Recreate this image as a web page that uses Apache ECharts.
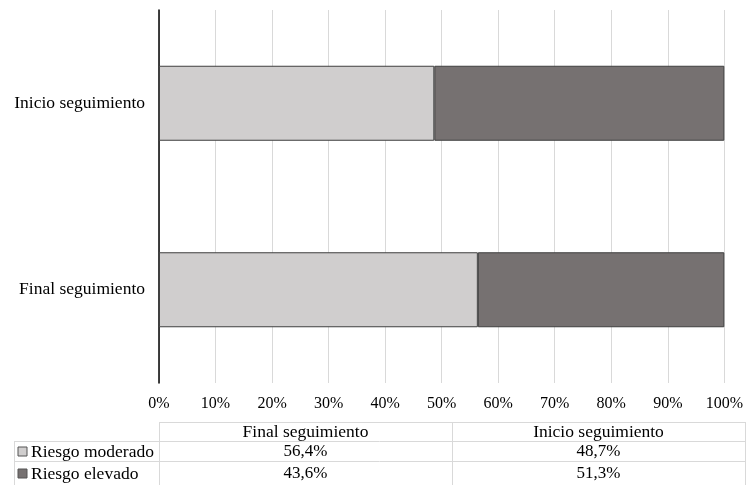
<!DOCTYPE html>
<html>
<head>
<meta charset="utf-8">
<script src="https://cdn.jsdelivr.net/npm/echarts@6/dist/echarts.min.js"></script>
<style>
  html, body { margin: 0; padding: 0; background: #fff; }
  #chart { width: 746px; height: 485px; }
</style>
</head>
<body>
<div id="chart"></div>
<script>
// Follow-up groups (bottom to top on the axis, left to right in the table)
const categories = ['Final seguimiento', 'Inicio seguimiento'];
const seriesNames = ['Riesgo moderado', 'Riesgo elevado'];
const moderado = [56.4, 48.7];
const elevado = [43.6, 51.3];
const seriesColors = ['#D0CECE', '#767171'];

const FONT = '"Liberation Serif", "DejaVu Serif", serif';
const fmt = v => v.toFixed(1).replace('.', ',') + '%';

const chart = echarts.init(document.getElementById('chart'));

const option = {
  animation: false,
  grid: { left: 159, right: 20, top: 10, bottom: 102 },
  xAxis: {
    type: 'value',
    min: 0,
    max: 100,
    interval: 10,
    axisLine: { show: false },
    axisTick: { show: false },
    splitLine: { lineStyle: { color: '#D9D9D9', width: 1 } },
    axisLabel: {
      formatter: '{value}%',
      color: '#000',
      fontFamily: FONT,
      fontSize: 16,
      margin: 13
    }
  },
  yAxis: {
    type: 'category',
    data: categories,
    axisLine: { show: true, lineStyle: { color: '#000', width: 1.5 } },
    axisTick: { show: false },
    axisLabel: { color: '#000', fontFamily: FONT, fontSize: 17.5, margin: 14 }
  },
  series: [
    {
      name: seriesNames[0], type: 'bar', stack: 'total', data: moderado, barWidth: 75,
      itemStyle: { color: seriesColors[0], borderColor: '#3F3F3F', borderWidth: 1 }
    },
    {
      name: seriesNames[1], type: 'bar', stack: 'total', data: elevado, barWidth: 75,
      itemStyle: { color: seriesColors[1], borderColor: '#3F3F3F', borderWidth: 1 }
    }
  ]
};
chart.setOption(option);

// Data table below the axis
function buildTable() {
  const x0 = chart.convertToPixel({ xAxisIndex: 0 }, 0);
  const tableRight = 745;
  const labelLeft = 14;
  const colW = (tableRight - x0) / categories.length;
  const rowTops = [422, 441, 461, 485];
  const lineStyle = { stroke: '#D9D9D9', lineWidth: 1 };
  const els = [];
  const hline = (x1, x2, y) => els.push({ type: 'line', shape: { x1, y1: y + 0.5, x2, y2: y + 0.5 }, style: lineStyle, silent: true });
  const vline = (x, y1, y2) => els.push({ type: 'line', shape: { x1: x + 0.5, y1, x2: x + 0.5, y2 }, style: lineStyle, silent: true });

  hline(x0, tableRight, rowTops[0]);
  hline(labelLeft, tableRight, rowTops[1]);
  hline(labelLeft, tableRight, rowTops[2]);
  vline(labelLeft, rowTops[1], rowTops[3]);
  for (let c = 0; c <= categories.length; c++) vline(x0 + colW * c, rowTops[0], rowTops[3]);

  const textStyle = (extra) => Object.assign({ fontFamily: FONT, fontSize: 17, fill: '#000', textVerticalAlign: 'middle' }, extra);

  categories.forEach((cat, c) => {
    els.push({ type: 'text', silent: true,
      style: textStyle({ text: cat, x: x0 + colW * (c + 0.5), y: (rowTops[0] + rowTops[1]) / 2 + 1, textAlign: 'center', fontSize: 17.5 }) });
  });

  const values = [moderado, elevado];
  seriesNames.forEach((name, r) => {
    const yMid = (rowTops[r + 1] + rowTops[r + 2]) / 2 + 1;
    els.push({ type: 'rect', silent: true,
      shape: { x: 18, y: yMid - 5, width: 9, height: 9 },
      style: { fill: seriesColors[r], stroke: '#555', lineWidth: 1 } });
    els.push({ type: 'text', silent: true,
      style: textStyle({ text: name, x: 31, y: yMid, textAlign: 'left', fontSize: 17.5 }) });
    categories.forEach((cat, c) => {
      els.push({ type: 'text', silent: true,
        style: textStyle({ text: fmt(values[r][c]), x: x0 + colW * (c + 0.5), y: yMid, textAlign: 'center' }) });
    });
  });
  chart.setOption({ graphic: { elements: els } });
}
buildTable();
</script>
</body>
</html>
